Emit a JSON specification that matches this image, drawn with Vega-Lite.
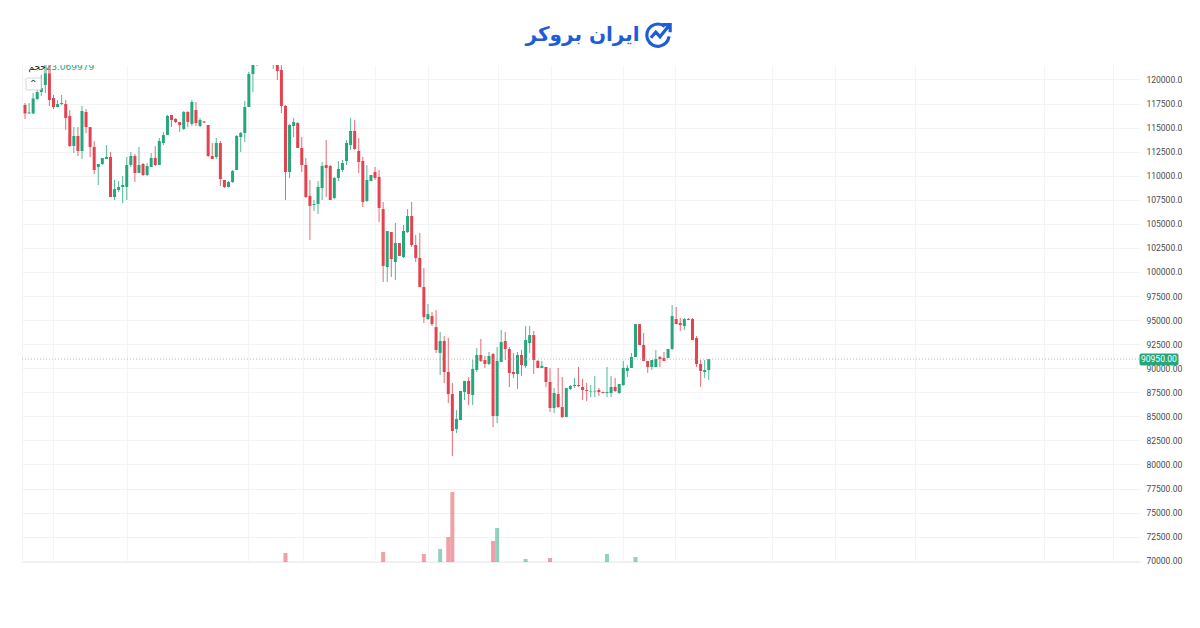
{"$schema":"https://vega.github.io/schema/vega-lite/v6.json","width":1118,"height":497,"autosize":"none","padding":{"left":22,"top":65,"right":60,"bottom":66},"background":"white","config":{"view":{"stroke":null},"font":"Roboto"},
"datasets":{"candles":[
{"i":0,"o":117350,"h":117560,"l":115900,"c":116470},{"i":1,"o":116470,"h":117560,"l":116420,"c":116570},{"i":2,"o":116470,"h":118600,"l":116420,"c":118030},{"i":3,"o":117970,"h":119640,"l":117870,"c":118700},{"i":4,"o":118700,"h":120470,"l":118290,"c":119120},{"i":5,"o":119430,"h":122500,"l":118600,"c":122000},{"i":6,"o":121800,"h":122300,"l":117250,"c":117870},{"i":7,"o":118080,"h":118390,"l":116930,"c":117140},{"i":8,"o":117140,"h":117870,"l":117090,"c":117450},{"i":9,"o":117450,"h":118390,"l":117350,"c":117560},
{"i":10,"o":117450,"h":117870,"l":114750,"c":116000},{"i":11,"o":116210,"h":116830,"l":112990,"c":113090},{"i":12,"o":113090,"h":115060,"l":112360,"c":114130},{"i":13,"o":114130,"h":115060,"l":112050,"c":112570},{"i":14,"o":112570,"h":117250,"l":111740,"c":116730},{"i":15,"o":116620,"h":116930,"l":114440,"c":115060},{"i":16,"o":115060,"h":115060,"l":111950,"c":112990},{"i":17,"o":112990,"h":113610,"l":110180,"c":110600},{"i":18,"o":110910,"h":111220,"l":109040,"c":111220},{"i":19,"o":111220,"h":111840,"l":111120,"c":111840},
{"i":20,"o":111740,"h":113190,"l":111740,"c":111950},{"i":21,"o":111950,"h":112470,"l":107790,"c":107790},{"i":22,"o":107790,"h":109560,"l":107480,"c":108620},{"i":23,"o":108520,"h":109450,"l":108310,"c":108830},{"i":24,"o":108830,"h":109970,"l":107170,"c":109040},{"i":25,"o":108830,"h":111950,"l":107480,"c":111120},{"i":26,"o":111120,"h":112470,"l":110910,"c":112050},{"i":27,"o":112050,"h":112260,"l":109350,"c":110290},{"i":28,"o":110290,"h":112990,"l":110290,"c":111120},{"i":29,"o":111220,"h":111320,"l":109970,"c":110080},
{"i":30,"o":110080,"h":111320,"l":109970,"c":111010},{"i":31,"o":110910,"h":112360,"l":110910,"c":111840},{"i":32,"o":111840,"h":113090,"l":111010,"c":111120},{"i":33,"o":111120,"h":113920,"l":111120,"c":113610},{"i":34,"o":113400,"h":114550,"l":113190,"c":114230},{"i":35,"o":114230,"h":116310,"l":114230,"c":116210},{"i":36,"o":116310,"h":116310,"l":115060,"c":115790},{"i":37,"o":115900,"h":116000,"l":115480,"c":115580},{"i":38,"o":115580,"h":115580,"l":114550,"c":115270},{"i":39,"o":114860,"h":116730,"l":114750,"c":116620},
{"i":40,"o":116620,"h":116730,"l":115060,"c":115580},{"i":41,"o":115380,"h":117870,"l":115170,"c":117660},{"i":42,"o":116830,"h":117660,"l":115170,"c":115480},{"i":43,"o":115170,"h":116000,"l":115060,"c":115790},{"i":44,"o":115640,"h":115690,"l":115480,"c":115530},{"i":45,"o":115270,"h":115270,"l":111950,"c":112050},{"i":46,"o":112050,"h":113400,"l":111740,"c":111740},{"i":47,"o":111950,"h":113920,"l":111740,"c":113400},{"i":48,"o":113400,"h":113610,"l":108930,"c":109660},{"i":49,"o":109560,"h":109560,"l":108730,"c":108830},
{"i":50,"o":108830,"h":109450,"l":108780,"c":109350},{"i":51,"o":109350,"h":110600,"l":109250,"c":110490},{"i":52,"o":110600,"h":114230,"l":110600,"c":114130},{"i":53,"o":114030,"h":114550,"l":112470,"c":114440},{"i":54,"o":114440,"h":117770,"l":113510,"c":117140},{"i":55,"o":117140,"h":120780,"l":117140,"c":120570},{"i":56,"o":120570,"h":122300,"l":118700,"c":121800},{"i":57,"o":121800,"h":122600,"l":121400,"c":122400},{"i":61,"o":122000,"h":122800,"l":121090,"c":122500},{"i":62,"o":122300,"h":122800,"l":119950,"c":120880},
{"i":63,"o":120990,"h":121800,"l":116520,"c":117250},{"i":64,"o":117250,"h":117350,"l":107480,"c":110390,"v":9000},{"i":65,"o":110390,"h":115380,"l":109770,"c":115270},{"i":66,"o":115170,"h":116000,"l":114030,"c":115580},{"i":67,"o":115480,"h":115580,"l":112880,"c":112880},{"i":68,"o":112880,"h":114030,"l":110390,"c":111120},{"i":69,"o":111120,"h":111840,"l":107690,"c":107790},{"i":70,"o":107900,"h":109560,"l":103320,"c":106860},{"i":71,"o":106960,"h":107480,"l":106340,"c":107060},{"i":72,"o":107060,"h":109450,"l":106020,"c":108830},
{"i":73,"o":108730,"h":111430,"l":107480,"c":111010},{"i":74,"o":111120,"h":113710,"l":107790,"c":110800},{"i":75,"o":111010,"h":111120,"l":107480,"c":107480},{"i":76,"o":107690,"h":109870,"l":107580,"c":109770},{"i":77,"o":109770,"h":111530,"l":109450,"c":110700},{"i":78,"o":110600,"h":111640,"l":110390,"c":111320},{"i":79,"o":111530,"h":113710,"l":111120,"c":113400},{"i":80,"o":113190,"h":116000,"l":112680,"c":114650},{"i":81,"o":114650,"h":115790,"l":112680,"c":112780},{"i":82,"o":112570,"h":113920,"l":110290,"c":111430},
{"i":83,"o":111530,"h":111950,"l":106750,"c":107270},{"i":84,"o":107380,"h":111120,"l":107270,"c":109560},{"i":85,"o":109450,"h":110080,"l":109450,"c":110080},{"i":86,"o":110390,"h":110910,"l":109560,"c":109770},{"i":87,"o":109870,"h":110600,"l":105190,"c":106650},{"i":88,"o":106540,"h":107270,"l":98960,"c":100630,"v":10000},{"i":89,"o":100520,"h":104260,"l":98960,"c":104260},{"i":90,"o":104150,"h":104150,"l":99480,"c":101350},{"i":91,"o":101040,"h":105090,"l":99170,"c":103010},{"i":92,"o":103010,"h":103010,"l":101670,"c":101670},
{"i":93,"o":101560,"h":104880,"l":101460,"c":104260},{"i":94,"o":104150,"h":106540,"l":104050,"c":105820},{"i":95,"o":105820,"h":107270,"l":102590,"c":102800},{"i":96,"o":102800,"h":103840,"l":101040,"c":101460},{"i":97,"o":101460,"h":104050,"l":98440,"c":98440},{"i":98,"o":98440,"h":100420,"l":94700,"c":95320,"v":8000},{"i":99,"o":95110,"h":96670,"l":95010,"c":95630},{"i":100,"o":95430,"h":95840,"l":94390,"c":94590},{"i":101,"o":94280,"h":96050,"l":91590,"c":91900},{"i":102,"o":91590,"h":93760,"l":89300,"c":92830,"v":13000},
{"i":103,"o":92830,"h":93350,"l":88470,"c":89610},{"i":104,"o":89610,"h":93140,"l":86390,"c":87320,"v":25000},{"i":105,"o":87320,"h":88470,"l":80890,"c":83480,"v":70000},{"i":106,"o":83690,"h":85660,"l":83270,"c":84720},{"i":107,"o":84620,"h":87640,"l":84620,"c":87640},{"i":108,"o":87530,"h":88680,"l":86700,"c":88680},{"i":109,"o":88680,"h":89090,"l":86180,"c":87320},{"i":110,"o":87220,"h":90860,"l":86180,"c":89930},{"i":111,"o":89820,"h":92100,"l":89610,"c":91380},{"i":112,"o":91380,"h":93040,"l":90650,"c":90760},
{"i":113,"o":90860,"h":91280,"l":90030,"c":90440},{"i":114,"o":90440,"h":91690,"l":90340,"c":91280},{"i":115,"o":91480,"h":91590,"l":83890,"c":85040,"v":21000},{"i":116,"o":85040,"h":92200,"l":84310,"c":90760,"v":34000},{"i":117,"o":90650,"h":93970,"l":90650,"c":92720},{"i":118,"o":92830,"h":93760,"l":90860,"c":92000},{"i":119,"o":92000,"h":92200,"l":88050,"c":89510},{"i":120,"o":89610,"h":91590,"l":88990,"c":89400},{"i":121,"o":89400,"h":91690,"l":87850,"c":91380},{"i":122,"o":91380,"h":91900,"l":89200,"c":90340},
{"i":123,"o":90240,"h":94390,"l":90030,"c":92930,"v":3000},{"i":124,"o":92620,"h":94390,"l":91590,"c":93450},{"i":125,"o":93450,"h":93870,"l":89400,"c":90860},{"i":126,"o":90760,"h":90860,"l":90030,"c":90030},{"i":127,"o":90030,"h":90760,"l":90030,"c":90240},{"i":128,"o":90130,"h":90130,"l":88050,"c":88570},{"i":129,"o":88570,"h":90030,"l":85450,"c":85870,"v":4000},{"i":130,"o":85870,"h":87950,"l":85350,"c":87430},{"i":131,"o":87320,"h":90030,"l":85870,"c":85970},{"i":132,"o":85970,"h":89090,"l":84830,"c":84930},
{"i":133,"o":84930,"h":87950,"l":84930,"c":87950},{"i":134,"o":87850,"h":88260,"l":87740,"c":88160},{"i":135,"o":88160,"h":88990,"l":87950,"c":88260},{"i":136,"o":88260,"h":90130,"l":88050,"c":88160},{"i":137,"o":88050,"h":88890,"l":86700,"c":87740},{"i":138,"o":87740,"h":88470,"l":86600,"c":87640},{"i":139,"o":87590,"h":88260,"l":87010,"c":87640},{"i":140,"o":87590,"h":89200,"l":87010,"c":87640},{"i":141,"o":87740,"h":87950,"l":87120,"c":87530},{"i":142,"o":87530,"h":87590,"l":87380,"c":87430},
{"i":143,"o":87430,"h":90130,"l":87010,"c":87530,"v":8000},{"i":144,"o":87430,"h":89200,"l":87010,"c":88050},{"i":145,"o":88050,"h":88990,"l":87530,"c":87640},{"i":146,"o":87430,"h":88360,"l":87320,"c":88360},{"i":147,"o":88260,"h":90760,"l":88160,"c":90030},{"i":148,"o":89720,"h":90340,"l":89090,"c":90030},{"i":149,"o":90030,"h":91590,"l":90030,"c":91170},{"i":150,"o":91170,"h":94590,"l":91170,"c":94590,"v":5000},{"i":151,"o":94590,"h":94590,"l":92410,"c":92410},{"i":152,"o":92410,"h":93660,"l":90760,"c":90760},
{"i":153,"o":90760,"h":90760,"l":89510,"c":90130},{"i":154,"o":90130,"h":90860,"l":89820,"c":90860},{"i":155,"o":90130,"h":91900,"l":90130,"c":90970},{"i":156,"o":91170,"h":91280,"l":90130,"c":90970},{"i":157,"o":91070,"h":91690,"l":90760,"c":90760},{"i":158,"o":91070,"h":92000,"l":91070,"c":92000},{"i":159,"o":92000,"h":96570,"l":91900,"c":95430},{"i":160,"o":95110,"h":96360,"l":94590,"c":94590},{"i":161,"o":94700,"h":95220,"l":93870,"c":94490},{"i":162,"o":94390,"h":95220,"l":93970,"c":95110},
{"i":163,"o":95110,"h":95220,"l":95010,"c":95010},{"i":164,"o":95110,"h":95220,"l":92930,"c":92930},{"i":165,"o":93140,"h":93350,"l":90130,"c":90440},{"i":166,"o":90440,"h":90860,"l":88050,"c":89720},{"i":167,"o":89610,"h":90860,"l":88990,"c":89820},{"i":168,"o":89820,"h":90950,"l":88780,"c":90950}]},
"data":{"name":"candles"},
"resolve":{"scale":{"y":"independent"},"axis":{"x":"independent","y":"independent"}},
"layer":[
{"layer":[
{"mark":{"type":"rule","strokeWidth":1,"opacity":0.8,"clip":true},"encoding":{"y":{"field":"h","type":"quantitative","scale":{"domain":[69870,121506],"nice":false,"zero":false},"axis":{"orient":"right","title":null,"values":[70000,72500,75000,77500,80000,82500,85000,87500,90000,92500,95000,97500,100000,102500,105000,107500,110000,112500,115000,117500,120000],"labelExpr":"datum.value >= 100000 ? format(datum.value, '.1f') : format(datum.value, '.2f')","labelFontSize":8.5,"labelColor":"#4a4a4a","labelPadding":6,"labelOverlap":false,"labelBound":false,"labelFlush":false,"ticks":false,"domain":false,"grid":true,"gridColor":"#f2f3f5"}},"y2":{"field":"l"},"color":{"condition":{"test":"datum.c >= datum.o","value":"#26a67c"},"value":"#e2434f"}}},
{"mark":{"type":"bar","size":3,"minBandSize":1,"clip":true},"encoding":{"y":{"field":"o","type":"quantitative","scale":{"domain":[69870,121506],"nice":false,"zero":false},"axis":{"orient":"right","title":null,"values":[70000,72500,75000,77500,80000,82500,85000,87500,90000,92500,95000,97500,100000,102500,105000,107500,110000,112500,115000,117500,120000],"labelExpr":"datum.value >= 100000 ? format(datum.value, '.1f') : format(datum.value, '.2f')","labelFontSize":8.5,"labelColor":"#4a4a4a","labelPadding":6,"labelOverlap":false,"labelBound":false,"labelFlush":false,"ticks":false,"domain":false,"grid":true,"gridColor":"#f2f3f5"}},"y2":{"field":"c"},"color":{"condition":{"test":"datum.c >= datum.o","value":"#26a67c"},"value":"#e2434f"}}}
],"encoding":{"x":{"field":"i","type":"quantitative","title":null,"scale":{"domain":[-0.74,273.96],"nice":false,"zero":false,"padding":0},"axis":{"values":[-0.74,6.9,25,54.8,68.3,86,99,116.2,129.2,146.9,159.7,183.5,199,218.7,250.4,267.3],"labels":false,"ticks":false,"grid":true,"gridColor":"#f3f4f6","domainColor":"#eceef1","title":null}}}},
{"transform":[{"filter":"datum.v > 0"}],"mark":{"type":"bar","size":4,"opacity":0.5,"clip":true},"encoding":{"x":{"field":"i","type":"quantitative","scale":{"domain":[-0.74,273.96],"nice":false,"zero":false,"padding":0},"axis":null},"y":{"field":"v","type":"quantitative","scale":{"domain":[0,497000],"nice":false},"axis":null},"color":{"condition":{"test":"datum.c >= datum.o","value":"#26a67c"},"value":"#e2434f"}}},
{"layer":[
{"data":{"values":[{"a":-0.74,"b":273.96,"p":90950}]},"mark":{"type":"rule","strokeWidth":0.8,"strokeDash":[1,2],"color":"#93b3a6"},"encoding":{"x":{"field":"a","type":"quantitative","axis":null},"x2":{"field":"b"},"y":{"field":"p","type":"quantitative","scale":{"domain":[69870,121506],"nice":false,"zero":false},"axis":null}}},
{"data":{"values":[{"a":273.96,"b":283.3,"p":91480,"q":90340,"fill":"#26a67c","line":"#26a67c","op":1},{"a":1,"b":16,"p":121506,"q":120680,"fill":"white","line":"white","op":0.5},{"a":0.25,"b":3.93,"p":120160,"q":118910,"fill":"white","line":"#d5d7da","op":1}]},"mark":{"type":"rect","cornerRadius":1},"encoding":{"x":{"field":"a","type":"quantitative","axis":null},"x2":{"field":"b"},"y":{"field":"p","type":"quantitative","scale":{"domain":[69870,121506],"nice":false,"zero":false},"axis":null},"y2":{"field":"q"},"fill":{"field":"fill","type":"nominal","scale":null},"stroke":{"field":"line","type":"nominal","scale":null},"opacity":{"field":"op","type":"quantitative","scale":null}}},
{"data":{"values":[{"a":278.6,"p":90950,"t":"90950.00","col":"white","size":8.5},{"a":2,"p":119530,"t":"⌃","col":"#333333","size":10}]},"mark":{"type":"text","align":"center","baseline":"middle"},"encoding":{"x":{"field":"a","type":"quantitative","axis":null},"y":{"field":"p","type":"quantitative","scale":{"domain":[69870,121506],"nice":false,"zero":false},"axis":null},"text":{"field":"t"},"color":{"field":"col","type":"nominal","scale":null},"size":{"field":"size","type":"quantitative","scale":null}}},
{"data":{"values":[{"a":3,"p":121250,"t":"حجم","col":"#222222"},{"a":11,"p":121250,"t":"23.069979","col":"#26a67c"}]},"mark":{"type":"text","align":"center","baseline":"middle","fontSize":9,"font":"DejaVu Sans","clip":true},"encoding":{"x":{"field":"a","type":"quantitative","axis":null},"y":{"field":"p","type":"quantitative","scale":{"domain":[69870,121506],"nice":false,"zero":false},"axis":null},"text":{"field":"t"},"color":{"field":"col","type":"nominal","scale":null}}},
{"data":{"values":[{"a":137,"p":124620,"t":"ایران بروکر"}]},"mark":{"type":"text","align":"center","baseline":"middle","fontSize":20,"font":"DejaVu Sans","fontWeight":"bold","color":"#1d5ed8"},"encoding":{"x":{"field":"a","type":"quantitative","axis":null},"y":{"field":"p","type":"quantitative","scale":{"domain":[69870,121506],"nice":false,"zero":false},"axis":null},"text":{"field":"t"}}},
{"data":{"values":[{"a":155.5,"p":124620}]},"mark":{"type":"point","shape":"M0.5,-0.62 A0.8,0.8 0 1 0 0.8,0.1 M-0.5,0.2 L-0.15,-0.2 L0.15,0.12 L0.8,-0.68 M0.35,-0.75 L0.88,-0.75 L0.88,-0.2","size":780,"filled":false,"strokeWidth":3.2,"color":"#1d5ed8","opacity":1},"encoding":{"x":{"field":"a","type":"quantitative","axis":null},"y":{"field":"p","type":"quantitative","scale":{"domain":[69870,121506],"nice":false,"zero":false},"axis":null}}}
]}
]}
